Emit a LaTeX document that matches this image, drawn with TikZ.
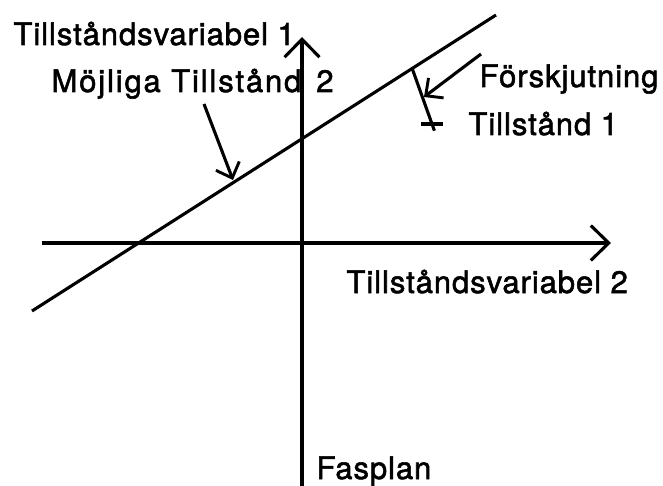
\documentclass[tikz,border=0pt]{standalone}
\usepackage{fontspec}
\setmainfont{TeX Gyre Heros}[LetterSpace=3, FakeBold=1.7]
\usetikzlibrary{arrows.meta, calc}

\begin{document}
\begin{tikzpicture}[x=1bp, y=-1bp, line width=3.1bp,
    lbl/.style={anchor=base west, inner sep=0pt, font=\fontsize{31bp}{37bp}\selectfont},
    axis/.style={-{Straight Barb[length=18bp, width=35bp, line width=3.1bp]}},
    ptr/.style={-{Straight Barb[length=13bp, width=25bp, line width=2.9bp]}}]
  \useasboundingbox (0,0) rectangle (663,486);
  % Axes
  \coordinate (xs) at (42,243);
  \coordinate (xe) at (611,243);
  \coordinate (ys) at (302,486);
  \coordinate (ye) at (302,37);
  \draw[axis] (xs) -- (xe);
  \draw[axis] (ys) -- (ye);
  % Line of possible states
  \coordinate (ls) at (32,311);
  \coordinate (le) at (496,15);
  \draw (ls) -- (le);
  % State 1 and its shift
  \coordinate (foot) at (412,68);
  \coordinate (s1) at (432,124);
  \draw (foot) -- ($(foot)!1.12!(s1)$);
  \draw (s1) ++(-11,0) -- ++(22,0);
  % Labels
  \node[lbl] (var1) at (12,45) {Tillståndsvariabel 1};
  \node[lbl, font=\fontsize{31bp}{37bp}\selectfont\addfontfeature{LetterSpace=6}]
    (mojl) at (50,92) {Möjliga Tillstånd\hspace{15bp}2};
  \node[lbl] (shift) at (478,87) {Förskjutning};
  \node[lbl] (st1) at (467,135) {Tillstånd 1};
  \node[lbl] (var2) at (345,293) {Tillståndsvariabel 2};
  \node[lbl] (fas) at (315,479) {Fasplan};
  % Pointers
  \coordinate (ma) at (204,104);
  \coordinate (mb) at (233,180);
  \draw[ptr] (ma) -- (mb);
  \coordinate (fa) at (481,54);
  \coordinate (fb) at (424,97);
  \draw[ptr] (fa) -- (fb);
\end{tikzpicture}
\end{document}
